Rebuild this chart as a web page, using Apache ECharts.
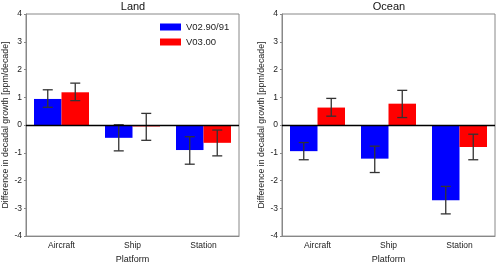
<!DOCTYPE html>
<html>
<head>
<meta charset="utf-8">
<script src="https://cdn.jsdelivr.net/npm/echarts@6/dist/echarts.min.js"></script>
<style>html,body{margin:0;padding:0;background:#fff}#c{width:500px;height:269px}</style>
</head>
<body>
<div id="c"></div>
<script>
const categories = ['Aircraft', 'Ship', 'Station'];
const seriesNames = ['V02.90/91', 'V03.00'];
const panelTitles = ['Land', 'Ocean'];
const yTicks = [-4, -3, -2, -1, 0, 1, 2, 3, 4];

const landV2 = [0.94, -0.46, -0.90];
const landV2Lo = [0.64, -0.93, -1.41];
const landV2Hi = [1.27, 0.01, -0.42];
const landV3 = [1.18, -0.05, -0.64];
const landV3Lo = [0.88, -0.55, -1.11];
const landV3Hi = [1.51, 0.42, -0.18];

const oceanV2 = [-0.94, -1.21, -2.71];
const oceanV2Lo = [-1.25, -1.71, -3.20];
const oceanV2Hi = [-0.63, -0.76, -2.21];
const oceanV3 = [0.63, 0.77, -0.79];
const oceanV3Lo = [0.32, 0.27, -1.25];
const oceanV3Hi = [0.96, 1.25, -0.33];

const FONT = 'Liberation Sans, Arial, sans-serif';
const BAR_W = 27.5;
const colors = ['#0000ff', '#ff0000'];

function errData(lo, hi) {
  return categories.map((c, i) => [i, lo[i], hi[i]]);
}
function errSeries(gi, lo, hi, offset) {
  return {
    type: 'custom', xAxisIndex: gi, yAxisIndex: gi, z: 5,
    data: errData(lo, hi),
    renderItem: function (params, api) {
      const p1 = api.coord([api.value(0), api.value(1)]);
      const p2 = api.coord([api.value(0), api.value(2)]);
      const x = p1[0] + offset;
      const cw = 5;
      const st = { stroke: '#333', lineWidth: 1.3 };
      return {
        type: 'group', children: [
          { type: 'line', shape: { x1: x, y1: p1[1], x2: x, y2: p2[1] }, style: st },
          { type: 'line', shape: { x1: x - cw, y1: p1[1], x2: x + cw, y2: p1[1] }, style: st },
          { type: 'line', shape: { x1: x - cw, y1: p2[1], x2: x + cw, y2: p2[1] }, style: st }
        ]
      };
    }
  };
}
function barSeries(gi, si, data, withLine) {
  const s = {
    type: 'bar', name: seriesNames[si], xAxisIndex: gi, yAxisIndex: gi,
    data: data, barWidth: BAR_W, barGap: '0%',
    itemStyle: { color: colors[si] }
  };
  if (withLine) {
    s.markLine = {
      silent: true, symbol: 'none', label: { show: false },
      lineStyle: { color: '#000', width: 1.3, type: 'solid' },
      data: [{ yAxis: 0 }], z: 6
    };
  }
  return s;
}

const grids = [
  { left: 26, width: 213, top: 14, height: 233, show: true, borderColor: '#888', borderWidth: 1 },
  { left: 282, width: 213, top: 14, height: 233, show: true, borderColor: '#888', borderWidth: 1 }
];

const xAxes = [0, 1].map(gi => ({
  type: 'category', gridIndex: gi, data: categories,
  name: 'Platform', nameLocation: 'middle', nameGap: 18,
  nameTextStyle: { fontFamily: FONT, fontSize: 9, color: '#222' },
  axisLine: { onZero: false, lineStyle: { color: '#888' } },
  axisTick: { alignWithLabel: true, length: 2, lineStyle: { color: '#888' } },
  axisLabel: { fontFamily: FONT, fontSize: 8.5, color: '#222', margin: 5 },
  splitLine: { show: false }
}));
const yAxes = [0, 1].map(gi => ({
  type: 'value', gridIndex: gi, min: yTicks[0], max: yTicks[yTicks.length - 1], interval: 1,
  name: 'Difference in decadal growth [ppm/decade]', nameLocation: 'middle', nameRotate: 90, nameGap: 13,
  nameTextStyle: { fontFamily: FONT, fontSize: 8.8, color: '#222' },
  axisLine: { show: true, lineStyle: { color: '#888' } },
  axisTick: { show: true, length: 2, lineStyle: { color: '#888' } },
  axisLabel: { fontFamily: FONT, fontSize: 8.5, color: '#222', margin: 4 },
  splitLine: { show: false }
}));

const option = {
  animation: false,
  backgroundColor: '#fff',
  title: [
    { text: panelTitles[0], left: 133, top: 1, padding: 0, textAlign: 'center', textStyle: { fontFamily: FONT, fontSize: 11, fontWeight: 'normal', color: '#111' } },
    { text: panelTitles[1], left: 389, top: 1, padding: 0, textAlign: 'center', textStyle: { fontFamily: FONT, fontSize: 11, fontWeight: 'normal', color: '#111' } }
  ],
  legend: {
    data: seriesNames, orient: 'vertical', left: 160, top: 22, padding: 0,
    itemWidth: 21, itemHeight: 7, itemGap: 5, icon: 'rect',
    textStyle: { fontFamily: FONT, fontSize: 9.5, color: '#222' }
  },
  grid: grids,
  xAxis: xAxes,
  yAxis: yAxes,
  series: [
    barSeries(0, 0, landV2, true),
    barSeries(0, 1, landV3, false),
    errSeries(0, landV2Lo, landV2Hi, -BAR_W / 2),
    errSeries(0, landV3Lo, landV3Hi, BAR_W / 2),
    barSeries(1, 0, oceanV2, true),
    barSeries(1, 1, oceanV3, false),
    errSeries(1, oceanV2Lo, oceanV2Hi, -BAR_W / 2),
    errSeries(1, oceanV3Lo, oceanV3Hi, BAR_W / 2)
  ]
};
const chart = echarts.init(document.getElementById('c'), null, { renderer: 'canvas' });
chart.setOption(option);
</script>
</body>
</html>
